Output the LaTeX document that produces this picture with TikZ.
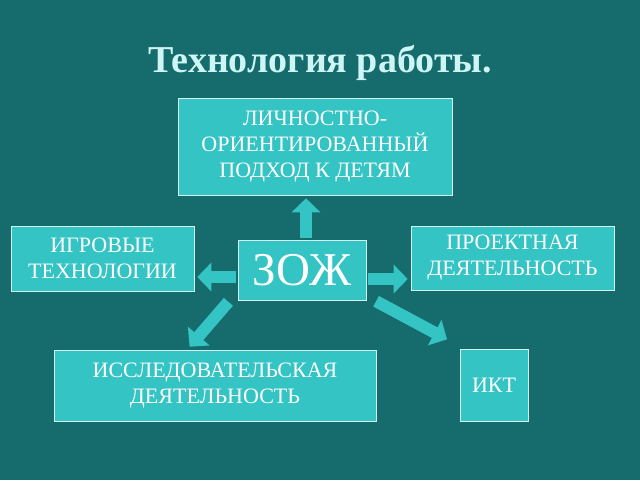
\documentclass[tikz,border=0pt]{standalone}
\usepackage{fontspec}
\setmainfont{Liberation Serif}
\usetikzlibrary{arrows.meta}
\definecolor{bgteal}{RGB}{22,108,108}
\definecolor{boxteal}{RGB}{52,196,196}
\definecolor{titlecyan}{RGB}{205,245,245}
\tikzset{
  item/.style={rectangle,draw=white!80!boxteal,line width=0.6pt,fill=boxteal,text=white,align=center,font=\fontsize{22}{26}\selectfont,inner sep=0pt},
  blockarrow/.style={draw=boxteal,line width=12pt,-{Triangle[width=28pt,length=14pt]},shorten <=2pt,shorten >=3pt}
}
\begin{document}
\begin{tikzpicture}[x=1pt,y=-1pt]
	\fill[bgteal] (0,0) rectangle (640,480);
	\useasboundingbox (0,0) rectangle (640,480);
	% title
	\node (title) [text=titlecyan,font=\fontsize{38}{40}\selectfont\bfseries] at (320,63) {Технология работы.};

	\node (zozh) [item,minimum width=128pt,minimum height=60pt,font=\fontsize{47}{50}\selectfont] at (302,270) {ЗОЖ};
	\node (pers) [item,minimum width=274pt,minimum height=97pt] at (315,146.5) {ЛИЧНОСТНО-\\ОРИЕНТИРОВАННЫЙ\\ПОДХОД К ДЕТЯМ};
	\node (game) [item,minimum width=183pt,minimum height=65pt] at (102.5,258.5) {ИГРОВЫЕ\\ТЕХНОЛОГИИ};
	\node (proj) [item,minimum width=203pt,minimum height=64pt] at (512.5,258) {ПРОЕКТНАЯ\\ДЕЯТЕЛЬНОСТЬ};
	\node (research) [item,minimum width=322pt,minimum height=71pt] at (215,385.5) {ИССЛЕДОВАТЕЛЬСКАЯ\\ДЕЯТЕЛЬНОСТЬ};
	\node (ikt) [item,minimum width=68pt,minimum height=72pt] at (494,385) {ИКТ};

	% arrows
	\draw[blockarrow] ([xshift=4pt]zozh.north) -- ([xshift=4pt]zozh.north |- pers.south);
	\draw[blockarrow] ([yshift=-7pt]zozh.west) -- ([yshift=-7pt]zozh.west -| game.east);
	\draw[blockarrow] ([yshift=-9pt]zozh.east) -- ([yshift=-9pt]zozh.east -| proj.west);
	\draw[blockarrow,shorten >=4pt] ([xshift=-8pt]zozh.south west) -- ([xshift=-28pt]research.north);
	\draw[blockarrow] ([xshift=8pt]zozh.south east) -- ([xshift=-10pt,yshift=8pt]ikt.north west);
\end{tikzpicture}
\end{document}
